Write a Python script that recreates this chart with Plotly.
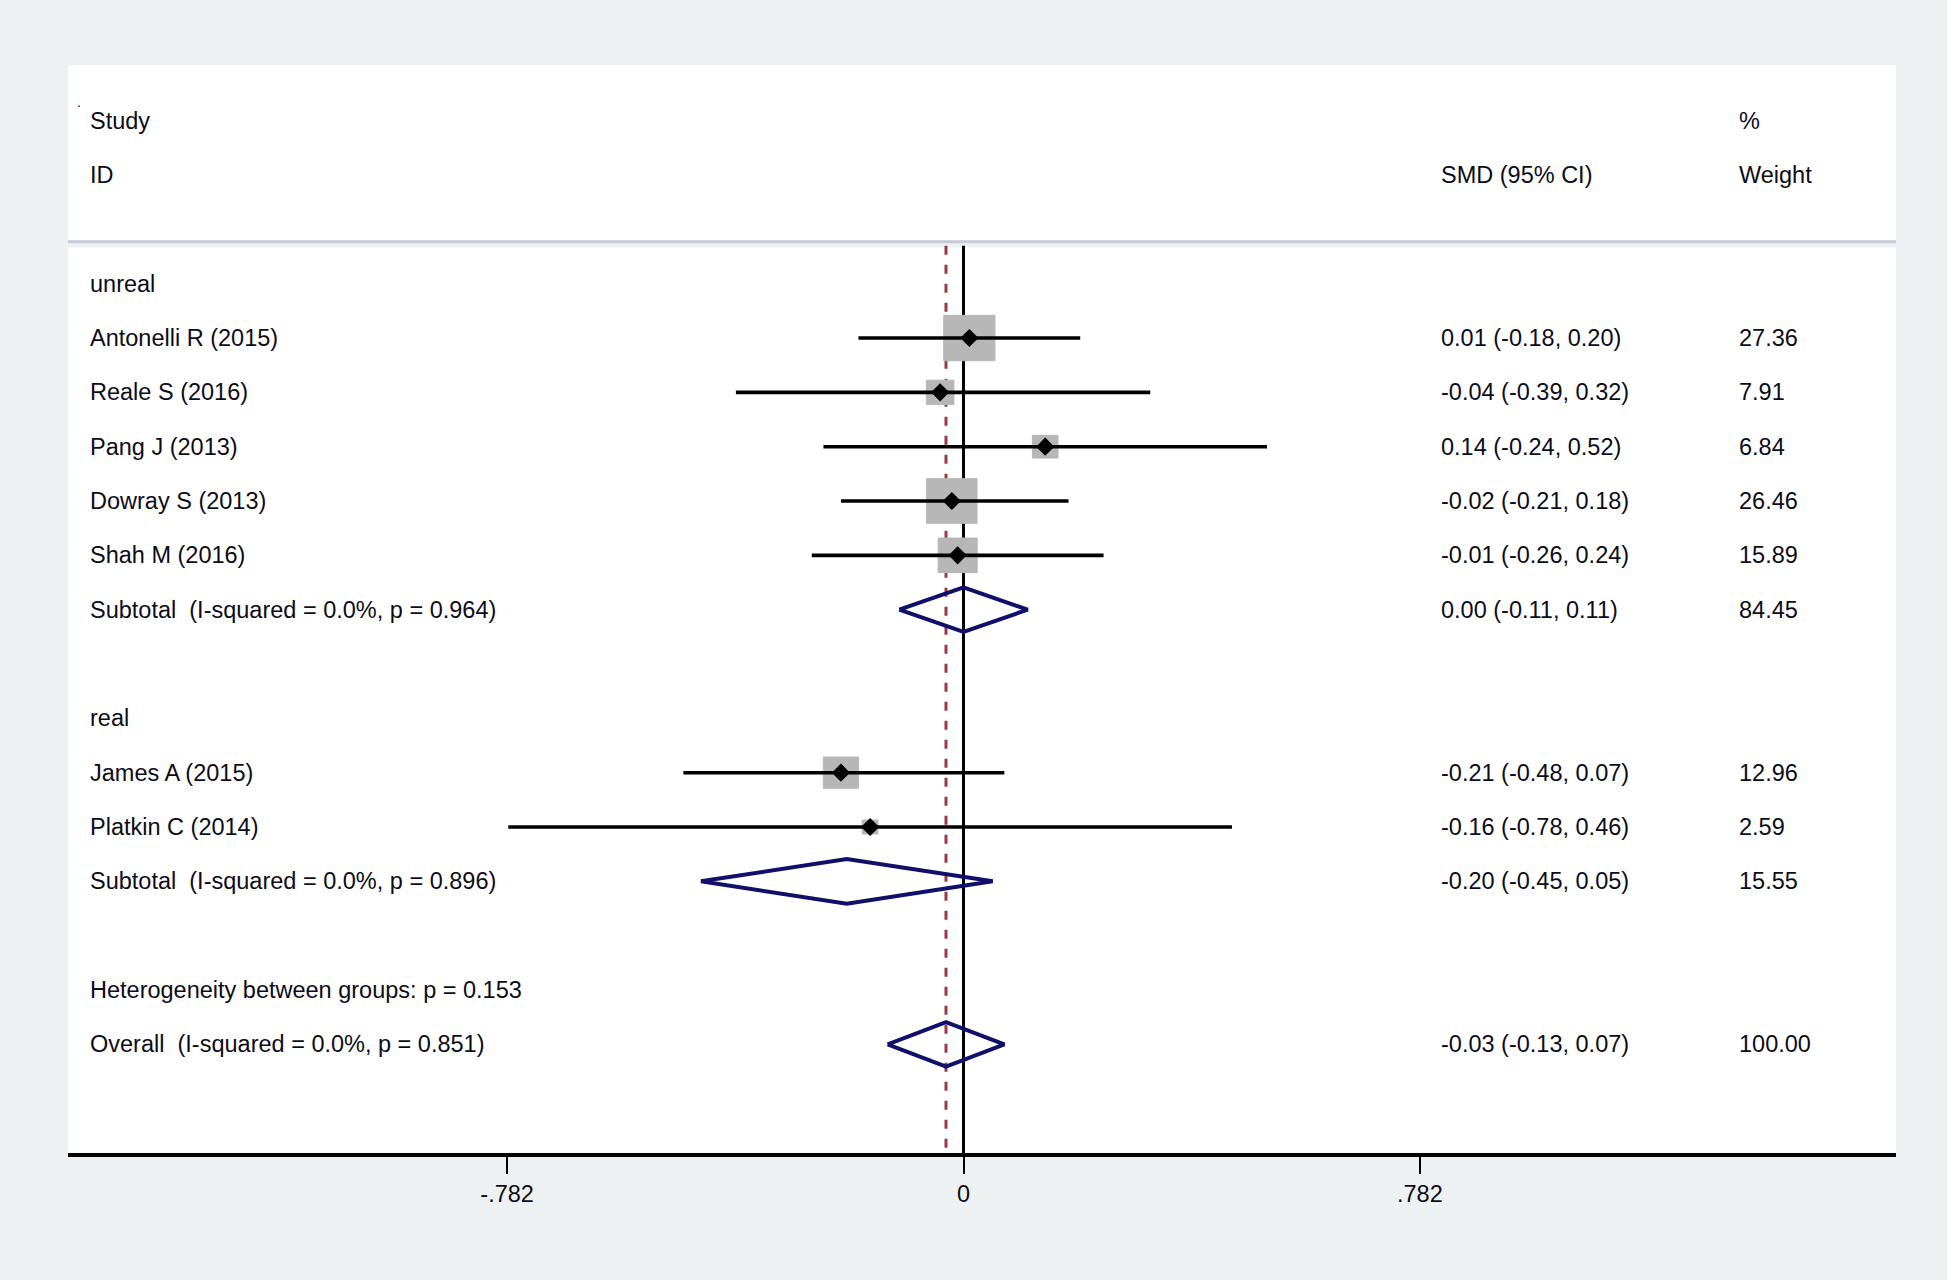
import numpy as np
import plotly.graph_objects as go

# ---- data ----
groups = ["unreal", "real"]
study = ["Antonelli R (2015)", "Reale S (2016)", "Pang J (2013)", "Dowray S (2013)",
         "Shah M (2016)", "James A (2015)", "Platkin C (2014)"]
study_group = ["unreal", "unreal", "unreal", "unreal", "unreal", "real", "real"]
smd = [0.01, -0.04, 0.14, -0.02, -0.01, -0.21, -0.16]
ci_lo = [-0.18, -0.39, -0.24, -0.21, -0.26, -0.48, -0.78]
ci_hi = [0.20, 0.32, 0.52, 0.18, 0.24, 0.07, 0.46]
weight = [27.36, 7.91, 6.84, 26.46, 15.89, 12.96, 2.59]

sub_smd = [0.00, -0.20]
sub_lo = [-0.11, -0.45]
sub_hi = [0.11, 0.05]
sub_weight = [84.45, 15.55]
sub_i2 = [0.0, 0.0]
sub_p = [0.964, 0.896]

het_p = 0.153
overall_smd = -0.03
overall_lo = -0.13
overall_hi = 0.07
overall_weight = 100.00
overall_i2 = 0.0
overall_p = 0.851

tick_vals = [-0.782, 0, 0.782]
tick_text = ["-.782", "0", ".782"]

# ---- style ----
BG = "#edf1f1"
TXT = "#0c0c18"
NAVY = "#10106a"
RED = "#9c3a44"
GREY = "#b7b7b7"
FONT = "Liberation Sans, Arial, sans-serif"
FS = 23.5

X_RANGE = [-1.5344, 1.5978]
Y_RANGE = [19, -1.025]
PX_PER_X = 583.6
PX_PER_ROW = 54.44

COL_LABEL = 0.0110
COL_CI = 0.7500
COL_W = 0.9130

# ---- row layout ----
study_rows = {}
sub_rows = []
r = 3
texts = []
for gi, g in enumerate(groups):
    texts.append((r, g, None, None))
    r += 1
    for i, s in enumerate(study):
        if study_group[i] == g:
            study_rows[i] = r
            texts.append((r, s, f"{smd[i]:.2f} ({ci_lo[i]:.2f}, {ci_hi[i]:.2f})", f"{weight[i]:.2f}"))
            r += 1
    sub_rows.append(r)
    texts.append((r, f"Subtotal&nbsp; (I-squared = {sub_i2[gi]:.1f}%, p = {sub_p[gi]:.3f})",
                  f"{sub_smd[gi]:.2f} ({sub_lo[gi]:.2f}, {sub_hi[gi]:.2f})", f"{sub_weight[gi]:.2f}"))
    r += 2
het_row = r
texts.append((het_row, f"Heterogeneity between groups: p = {het_p:.3f}", None, None))
overall_row = r + 1
texts.append((overall_row, f"Overall&nbsp; (I-squared = {overall_i2:.1f}%, p = {overall_p:.3f})",
              f"{overall_smd:.2f} ({overall_lo:.2f}, {overall_hi:.2f})", f"{overall_weight:.2f}"))

fig = go.Figure()

# weight squares (behind CI lines)
sq_x, sq_y = [], []
for i in range(len(study)):
    hw = 4.9 * np.sqrt(weight[i]) / PX_PER_X
    hh = 4.35 * np.sqrt(weight[i]) / PX_PER_ROW
    y = study_rows[i]
    sq_x += [smd[i] - hw, smd[i] + hw, smd[i] + hw, smd[i] - hw, smd[i] - hw, None]
    sq_y += [y - hh, y - hh, y + hh, y + hh, y - hh, None]
fig.add_trace(go.Scatter(x=sq_x, y=sq_y, mode="lines", fill="toself", fillcolor=GREY,
                         line=dict(color=GREY, width=1), hoverinfo="skip"))

# confidence intervals
ci_x, ci_y = [], []
for i in range(len(study)):
    ci_x += [ci_lo[i], ci_hi[i], None]
    ci_y += [study_rows[i], study_rows[i], None]
fig.add_trace(go.Scatter(x=ci_x, y=ci_y, mode="lines", line=dict(color="black", width=3.6),
                         hoverinfo="skip"))

# point estimates
fig.add_trace(go.Scatter(x=smd, y=[study_rows[i] for i in range(len(study))], mode="markers",
                         marker=dict(symbol="diamond", size=14, color="black")))

# pooled diamonds
d_x, d_y = [], []
dh = 0.41
for est, lo, hi, y in list(zip(sub_smd, sub_lo, sub_hi, sub_rows)) + [(overall_smd, overall_lo, overall_hi, overall_row)]:
    d_x += [lo, est, hi, est, lo, None]
    d_y += [y, y - dh, y, y + dh, y, None]
fig.add_trace(go.Scatter(x=d_x, y=d_y, mode="lines", line=dict(color=NAVY, width=4),
                         hoverinfo="skip"))

# text columns
ann = []
def add_text(xp, y, t):
    ann.append(dict(x=xp, y=y, xref="paper", yref="y", text=t, showarrow=False,
                    xanchor="left", yanchor="middle", font=dict(family=FONT, size=FS, color=TXT)))

add_text(COL_LABEL, 0, "Study")
add_text(COL_LABEL, 1, "ID")
add_text(COL_CI, 1, "SMD (95% CI)")
add_text(COL_W, 0, "%")
add_text(COL_W, 1, "Weight")
for y, lab, ci_t, w_t in texts:
    add_text(COL_LABEL, y, lab)
    if ci_t:
        add_text(COL_CI, y, ci_t)
    if w_t:
        add_text(COL_W, y, w_t)
ann.append(dict(x=0.004, y=-0.35, xref="paper", yref="y", text=".", showarrow=False,
                xanchor="left", yanchor="middle", font=dict(family=FONT, size=14, color=NAVY)))

shapes = [
    # header separator
    dict(type="rect", xref="paper", yref="y", x0=0, x1=1, y0=2.255, y1=2.33,
         fillcolor=BG, line=dict(width=0), layer="below"),
    dict(type="line", xref="paper", yref="y", x0=0, x1=1, y0=2.23, y1=2.23,
         line=dict(color="#c6c9d8", width=3), layer="below"),
    # null line and overall effect line
    dict(type="line", xref="x", yref="y", x0=0, x1=0, y0=2.3, y1=19,
         line=dict(color="black", width=3), layer="below"),
    dict(type="line", xref="x", yref="y", x0=overall_smd, x1=overall_smd, y0=2.3, y1=19,
         line=dict(color=RED, width=3, dash="9px,10px"), layer="below"),
]

fig.update_layout(
    width=1947, height=1280,
    margin=dict(l=68, r=51, t=65, b=127),
    paper_bgcolor=BG, plot_bgcolor="white",
    showlegend=False,
    annotations=ann, shapes=shapes,
    xaxis=dict(range=X_RANGE, showgrid=False, zeroline=False, showline=True,
               linecolor="black", linewidth=4, ticks="outside", ticklen=17, tickwidth=2,
               tickcolor="black", tickvals=tick_vals, ticktext=tick_text,
               tickfont=dict(family=FONT, size=FS, color=TXT)),
    yaxis=dict(range=Y_RANGE, showgrid=False, zeroline=False, showline=False,
               showticklabels=False, ticks=""),
)

fig.write_html("out.html", config={"displayModeBar": False},
               post_script="document.body.style.margin='0';document.body.style.background='#edf1f1';")
